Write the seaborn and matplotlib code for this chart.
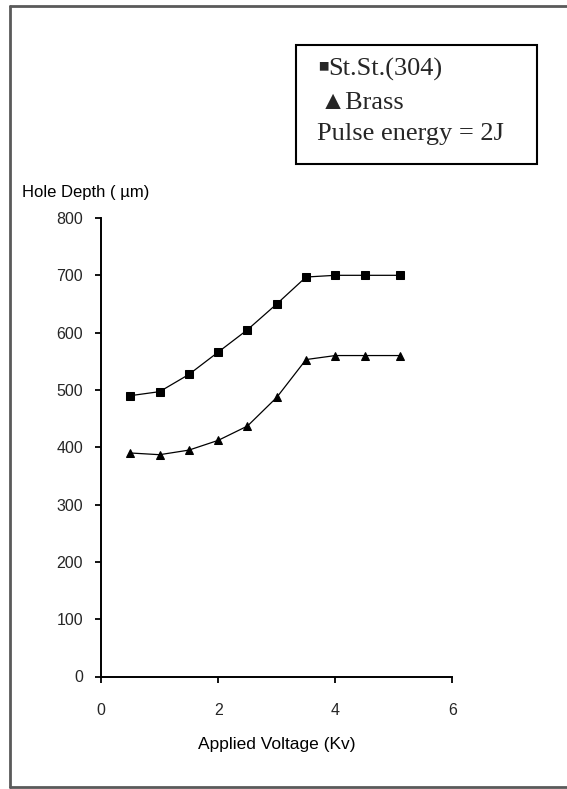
import matplotlib
matplotlib.use("Agg")
import matplotlib.pyplot as plt
from matplotlib.patches import Rectangle
from matplotlib.lines import Line2D
import numpy as np
import pandas as pd
import seaborn as sns

# Hole depth vs applied voltage, pulse energy 2 J
voltage = [0.5, 1.0, 1.5, 2.0, 2.5, 3.0, 3.5, 4.0, 4.5, 5.1]
depth_steel = [490, 497, 527, 566, 605, 650, 697, 700, 700, 700]
depth_brass = [390, 387, 395, 412, 437, 487, 553, 560, 560, 560]
materials = ["St.St.(304)", "Brass"]
x_ticks = [0, 2, 4, 6]
y_ticks = [0, 100, 200, 300, 400, 500, 600, 700, 800]

df = pd.DataFrame({
    "voltage": voltage + voltage,
    "depth": depth_steel + depth_brass,
    "material": [materials[0]] * len(voltage) + [materials[1]] * len(voltage),
})

sns.set_style("ticks")
plt.rcParams["font.family"] = ["Liberation Sans", "DejaVu Sans"]

W, H = 567, 789
fig = plt.figure(figsize=(W / 100, H / 100), dpi=100)
fig.patch.set_facecolor("white")

ax_l, ax_r, ax_b, ax_t = 101, 452.5, 676.5, 218
ax = fig.add_axes([ax_l / W, 1 - ax_b / H, (ax_r - ax_l) / W, (ax_b - ax_t) / H])

sns.lineplot(
    data=df, x="voltage", y="depth", style="material",
    markers={materials[0]: "s", materials[1]: "^"}, dashes=False,
    color="black", linewidth=0.9, markersize=5.8, markeredgecolor="black",
    legend=False, ax=ax,
)

ax.set_xlim(0, 6)
ax.set_ylim(0, 800)
ax.set_xticks(x_ticks)
ax.set_yticks(y_ticks)
ax.set_xticklabels([str(t) for t in x_ticks])
ax.set_yticklabels([str(t) for t in y_ticks])
ax.set_facecolor("white")
for side in ["top", "right"]:
    ax.spines[side].set_visible(False)
for side in ["left", "bottom"]:
    ax.spines[side].set_color("black")
    ax.spines[side].set_linewidth(1.4)
ax.tick_params(axis="both", direction="out", length=4, width=1.3, color="black",
               labelsize=11.5, bottom=True, left=True, top=False, right=False)
ax.tick_params(axis="y", pad=9)
ax.tick_params(axis="x", pad=15)

ax.set_xlabel("")
ax.set_ylabel("")
fig.text(277 / W, 1 - 745 / H, "Applied Voltage (Kv)", ha="center", va="center",
         fontsize=12.5, color="black")
fig.text(22 / W, 1 - 193 / H, "Hole Depth ( µm)", ha="left", va="center",
         fontsize=12, color="black")

# annotation box with series key
fig.add_artist(Rectangle((296 / W, 1 - 164 / H), (537 - 296) / W, (164 - 45) / H,
                         transform=fig.transFigure, facecolor="white",
                         edgecolor="black", linewidth=1.5))
serif = ["Liberation Serif", "DejaVu Serif"]
fig.text(317 / W, 1 - 76 / H, "\u25aa", ha="left", va="baseline",
         fontsize=25, family=serif)
fig.text(328 / W, 1 - 76 / H, "St.St.(304)", ha="left", va="baseline",
         fontsize=19, family=serif)
fig.text(320 / W, 1 - 109 / H, "\u25b2Brass", ha="left", va="baseline",
         fontsize=19, family=serif)
fig.text(317 / W, 1 - 140 / H, "Pulse energy = 2J", ha="left", va="baseline",
         fontsize=19, family=serif)

# outer chart frame
frame_kw = dict(transform=fig.transFigure, color="#5a5a5a", linewidth=2)
fig.add_artist(Line2D([10 / W, 1.01], [1 - 5.5 / H, 1 - 5.5 / H], **frame_kw))
fig.add_artist(Line2D([10 / W, 1.01], [1 - 787 / H, 1 - 787 / H], **frame_kw))
fig.add_artist(Line2D([10 / W, 10 / W], [1 - 5.5 / H, 1 - 787 / H], **frame_kw))

fig.savefig("out.png", dpi=100, facecolor="white")
